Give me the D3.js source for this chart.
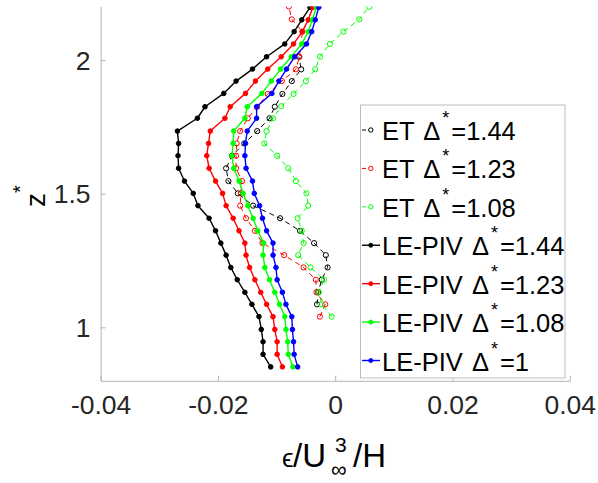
<!DOCTYPE html>
<html>
<head>
<meta charset="utf-8">
<script src="https://cdn.jsdelivr.net/npm/d3@7/dist/d3.min.js"></script>
<style>
  html, body { margin: 0; padding: 0; background: #fff; }
  svg { display: block; }
  text { font-family: "Liberation Sans", Arial, Helvetica, sans-serif; }
</style>
</head>
<body>
<svg id="chart" width="598" height="483"></svg>
<script>
// z* levels shared by the LE-PIV profiles (bottom to top)
const zPIV = [0.852, 0.899, 0.946, 0.992, 1.040, 1.086, 1.131, 1.178, 1.224, 1.270,
              1.315, 1.361, 1.408, 1.455, 1.501, 1.547, 1.595, 1.642, 1.688, 1.734,
              1.782, 1.825, 1.875, 1.921, 1.966, 2.012, 2.060, 2.106, 2.150, 2.197];

// LE-PIV dissipation profiles, eps / U^3 / H
const pivD144 = [-0.0110, -0.0123, -0.0123, -0.0126, -0.0130, -0.0142, -0.0154, -0.0167, -0.0178, -0.0186,
                 -0.0195, -0.0204, -0.0215, -0.0234, -0.0242, -0.0257, -0.0267, -0.0268, -0.0267, -0.0269,
                 -0.0235, -0.0222, -0.0190, -0.0169, -0.0141, -0.0117, -0.0086, -0.0070, -0.0057, -0.0043];
const pivD123 = [-0.0090, -0.0099, -0.0099, -0.0103, -0.0106, -0.0117, -0.0127, -0.0137, -0.0146, -0.0152,
                 -0.0154, -0.0164, -0.0174, -0.0186, -0.0192, -0.0204, -0.0215, -0.0219, -0.0216, -0.0213,
                 -0.0188, -0.0179, -0.0153, -0.0136, -0.0115, -0.0092, -0.0071, -0.0056, -0.0046, -0.0038];
const pivD108 = [-0.0072, -0.0080, -0.0081, -0.0084, -0.0086, -0.0095, -0.0103, -0.0112, -0.0120, -0.0123,
                 -0.0122, -0.0132, -0.0140, -0.0149, -0.0157, -0.0164, -0.0173, -0.0176, -0.0174, -0.0173,
                 -0.0154, -0.0150, -0.0125, -0.0109, -0.0093, -0.0075, -0.0057, -0.0046, -0.0039, -0.0032];
const pivD100 = [-0.0064, -0.0070, -0.0071, -0.0073, -0.0074, -0.0084, -0.0090, -0.0099, -0.0101, -0.0106,
                 -0.0106, -0.0117, -0.0124, -0.0129, -0.0138, -0.0141, -0.0152, -0.0154, -0.0153, -0.0150,
                 -0.0134, -0.0134, -0.0108, -0.0096, -0.0083, -0.0069, -0.0049, -0.0040, -0.0034, -0.0028];

// ET profiles: each with its own z* levels (bottom to top)
const zET144 = [1.086, 1.131, 1.178, 1.224, 1.270, 1.315, 1.361, 1.408, 1.455, 1.501, 1.547,
                1.595, 1.642, 1.688, 1.734, 1.782, 1.825, 1.873, 1.921, 1.965, 2.012];
const etD144 = [-0.0031, -0.0029, -0.0023, -0.0013, -0.0016, -0.0036, -0.0060, -0.0094, -0.0140, -0.0166, -0.0182,
                -0.0186, -0.0176, -0.0155, -0.0133, -0.0112, -0.0103, -0.0090, -0.0074, -0.0058, -0.0062];

const zET123 = [1.040, 1.086, 1.131, 1.178, 1.224, 1.270, 1.315, 1.361, 1.408, 1.455, 1.501, 1.547, 1.595,
                1.642, 1.688, 1.734, 1.782, 1.825, 1.873, 1.921, 1.965, 2.012, 2.106, 2.152, 2.200];
const etD123 = [-0.0026, -0.0017, -0.0032, -0.0033, -0.0054, -0.0087, -0.0124, -0.0137, -0.0152, -0.0162, -0.0161, -0.0159, -0.0169,
                -0.0169, -0.0168, -0.0162, -0.0149, -0.0133, -0.0115, -0.0091, -0.0067, -0.0061, -0.0056, -0.0074, -0.0079];

const zET108 = [1.040, 1.086, 1.131, 1.178, 1.224, 1.270, 1.315, 1.361, 1.408, 1.455, 1.501, 1.547, 1.595,
                1.642, 1.688, 1.734, 1.782, 1.827, 1.873, 1.921, 1.965, 2.012, 2.060, 2.106, 2.152, 2.199];
const etD108 = [-0.0006, -0.0023, -0.0028, -0.0019, -0.0042, -0.0063, -0.0054, -0.0057, -0.0064, -0.0046, -0.0049, -0.0067, -0.0080,
                -0.0099, -0.0121, -0.0117, -0.0106, -0.0092, -0.0071, -0.0050, -0.0034, -0.0026, -0.0009, 0.0014, 0.0041, 0.0058];

// axis ticks
const xTicks = [-0.04, -0.02, 0, 0.02, 0.04];
const xTickLabels = ["-0.04", "-0.02", "0", "0.02", "0.04"];
const yTicks = [1, 1.5, 2];
const yTickLabels = ["1", "1.5", "2"];

// series: ET (dashed, open circles) first, then LE-PIV (solid, filled dots)
const series = [
  { name: "ET", delta: "1.44", color: "#000000", z: zET144, v: etD144, et: true },
  { name: "ET", delta: "1.23", color: "#ff0000", z: zET123, v: etD123, et: true },
  { name: "ET", delta: "1.08", color: "#00ff00", z: zET108, v: etD108, et: true },
  { name: "LE-PIV", delta: "1.44", color: "#000000", z: zPIV, v: pivD144, et: false },
  { name: "LE-PIV", delta: "1.23", color: "#ff0000", z: zPIV, v: pivD123, et: false },
  { name: "LE-PIV", delta: "1.08", color: "#00ff00", z: zPIV, v: pivD108, et: false },
  { name: "LE-PIV", delta: "1", color: "#0000ff", z: zPIV, v: pivD100, et: false }
];

const svg = d3.select("#chart");
const plot = { left: 100.6, right: 569.8, top: 6.5, bottom: 380.8 };

const x = d3.scaleLinear().domain([-0.04, 0.04]).range([plot.left, plot.right]);
const y = d3.scaleLinear().domain([0.8, 2.2]).range([plot.bottom, plot.top]);

const axisColor = "#b3b3b3";
const labelColor = "#262626";

svg.append("defs").append("clipPath").attr("id", "plotClip")
  .append("rect")
  .attr("x", plot.left).attr("y", plot.top)
  .attr("width", plot.right - plot.left).attr("height", plot.bottom - plot.top);

// axes (ticks pointing inward)
const xAxis = d3.axisBottom(x).tickValues(xTicks)
  .tickFormat((d, i) => xTickLabels[i]).tickSizeInner(-5).tickSizeOuter(0).tickPadding(14);
const yAxis = d3.axisLeft(y).tickValues(yTicks)
  .tickFormat((d, i) => yTickLabels[i]).tickSizeInner(-5).tickSizeOuter(0).tickPadding(10);

const gx = svg.append("g").attr("transform", `translate(0,${plot.bottom})`).call(xAxis);
const gy = svg.append("g").attr("transform", `translate(${plot.left},0)`).call(yAxis);
[gx, gy].forEach(g => {
  g.select(".domain").attr("stroke", axisColor).attr("stroke-width", 1);
  g.selectAll(".tick line").attr("stroke", axisColor).attr("stroke-width", 1);
  g.selectAll(".tick text").attr("fill", labelColor)
    .style("font-size", "26.5px").style("font-family", "'Liberation Sans', Arial, sans-serif");
});
gx.selectAll(".tick text").attr("dy", "0.71em");
gy.selectAll(".tick text").attr("dy", "0.35em");

// data
const gData = svg.append("g").attr("clip-path", "url(#plotClip)");
const line = d3.line().x(d => x(d.v)).y(d => y(d.z));

series.forEach(s => {
  const pts = s.z.map((z, i) => ({ z: z, v: s.v[i] }));
  const g = gData.append("g");
  g.append("path").datum(pts)
    .attr("d", line)
    .attr("fill", "none")
    .attr("stroke", s.color)
    .attr("stroke-width", s.et ? 1 : 1.4)
    .attr("stroke-dasharray", s.et ? "5,4" : null)
    .attr("stroke-linejoin", "round");
  g.selectAll("circle").data(pts).join("circle")
    .attr("cx", d => x(d.v)).attr("cy", d => y(d.z))
    .attr("r", s.et ? 2.6 : 2.3)
    .attr("fill", s.et ? "none" : s.color)
    .attr("stroke", s.color)
    .attr("stroke-width", 1);
});

// x-axis label: eps / U_inf^3 / H
const xl = svg.append("g").attr("fill", "#000");
xl.append("text").attr("x", 282).attr("y", 467)
  .style("font-size", "26px").text("ϵ");
xl.append("text").attr("x", 293).attr("y", 467)
  .style("font-size", "33px").text("/U");
xl.append("text").attr("x", 335).attr("y", 452)
  .style("font-size", "21px").text("3");
xl.append("text").attr("x", 331).attr("y", 477)
  .style("font-size", "22px").text("∞");
xl.append("text").attr("x", 353).attr("y", 467)
  .style("font-size", "33px").text("/H");

const yl = svg.append("text")
  .attr("transform", "translate(45,196) rotate(-90)")
  .attr("text-anchor", "middle")
  .attr("fill", "#000")
  .style("font-size", "28px");
yl.append("tspan").text("z");
yl.append("tspan").attr("dy", -18).style("font-size", "20px").text("*");

// legend
const leg = svg.append("g");
const legBox = { x: 360.5, y: 105, w: 204.5, h: 273 };
leg.append("rect")
  .attr("x", legBox.x).attr("y", legBox.y).attr("width", legBox.w).attr("height", legBox.h)
  .attr("fill", "#fff").attr("stroke", "#bdbdbd").attr("stroke-width", 1);

const rowY = d3.scaleLinear().domain([0, series.length - 1]).range([130, 360.5]);
series.forEach((s, i) => {
  const cy = rowY(i);
  const g = leg.append("g");
  g.append("line")
    .attr("x1", 362).attr("x2", s.et ? 376 : 380).attr("y1", cy).attr("y2", cy)
    .attr("stroke", s.color).attr("stroke-width", s.et ? 1 : 1.4)
    .attr("stroke-dasharray", s.et ? "4,3" : null);
  g.append("circle").attr("cx", 370.8).attr("cy", cy).attr("r", s.et ? 2.2 : 2)
    .attr("fill", s.et ? "#fff" : s.color).attr("stroke", s.color).attr("stroke-width", 1);
  const t = g.append("text").attr("x", 382).attr("y", cy + 10)
    .attr("fill", "#000").style("font-size", "25.5px");
  t.append("tspan").text(s.name + " ");
  t.append("tspan").attr("dx", 2).text("Δ");
  t.append("tspan").attr("dx", 2).attr("dy", -16).style("font-size", "18px").text("*");
  t.append("tspan").attr("dx", 2).attr("dy", 16).text("=" + s.delta);
});
</script>
</body>
</html>
